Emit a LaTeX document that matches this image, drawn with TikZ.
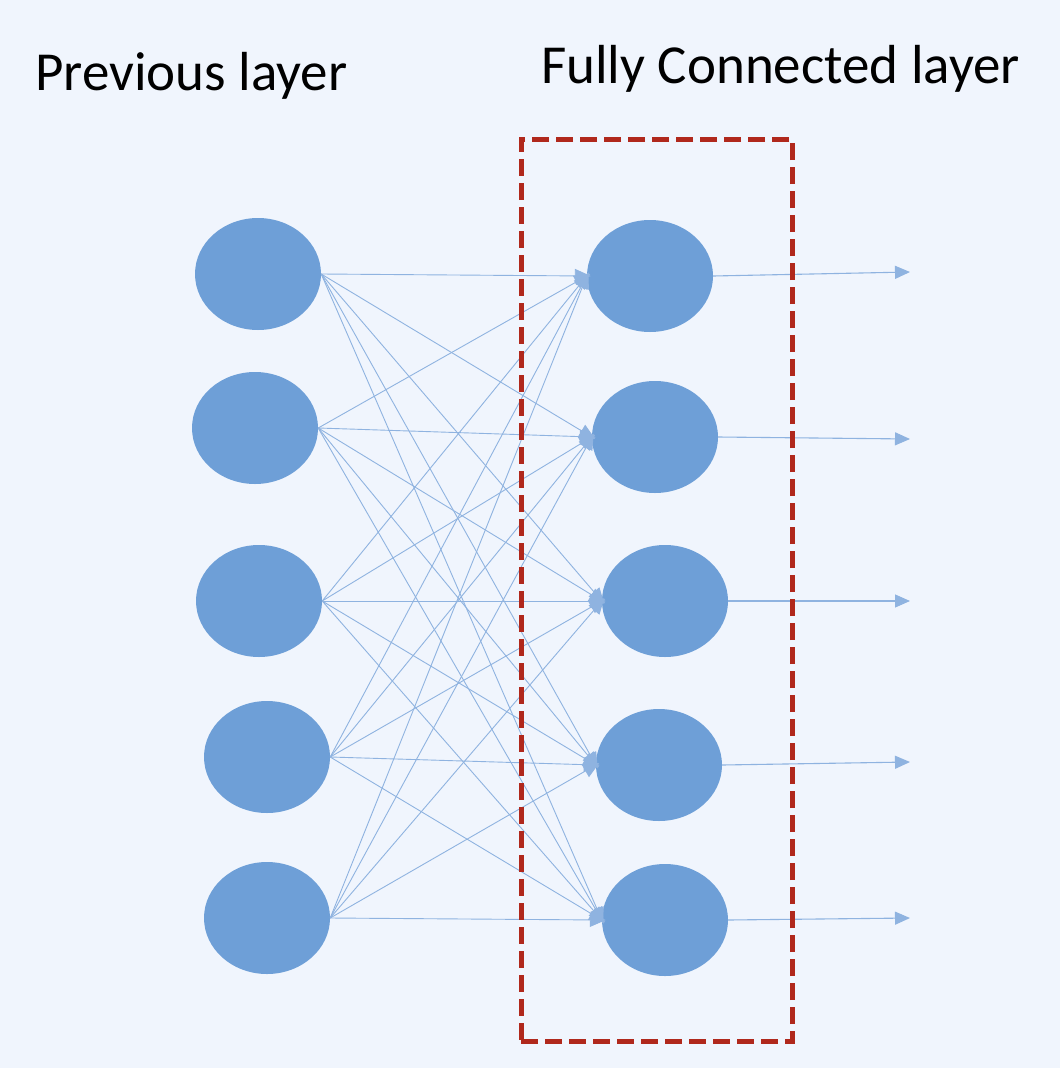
\documentclass[tikz,border=0pt]{standalone}
\usepackage{fontspec}
\setmainfont{Carlito}
\usetikzlibrary{shapes.geometric,arrows.meta}
\definecolor{bgc}{HTML}{F0F5FD}
\definecolor{neur}{HTML}{6E9FD7}
\definecolor{conn}{HTML}{8FB3E0}
\definecolor{boxred}{HTML}{B0281C}
\begin{document}
\begin{tikzpicture}[x=1pt,y=-1pt,
  neuron/.style={ellipse,fill=neur,draw=none,minimum width=126pt,minimum height=112pt,inner sep=0pt},
  link/.style={draw=conn,line width=0.9pt,-{Triangle[length=16pt,width=14pt]},shorten >=-4pt},
  outlink/.style={draw=conn,line width=1.1pt,-{Triangle[length=15pt,width=13pt]}},
  title/.style={anchor=base west,font=\fontsize{55}{60}\selectfont,text=black,inner sep=0pt}]
\fill[bgc] (0,0) rectangle (1060,1068);
\useasboundingbox (0,0) rectangle (1060,1068);
\node[title] (t1) at (35,90) {Previous layer};
\node[title] (t2) at (541,83) {Fully Connected layer};
\node[neuron] (L1) at (258,274) {};
\node[neuron] (L2) at (255,428) {};
\node[neuron] (L3) at (259,601) {};
\node[neuron] (L4) at (267,757) {};
\node[neuron] (L5) at (267,918) {};
\node[neuron] (R1) at (650,276) {};
\node[neuron] (R2) at (655,437) {};
\node[neuron] (R3) at (665,601) {};
\node[neuron] (R4) at (659,765) {};
\node[neuron] (R5) at (665,920) {};
\foreach \i in {1,...,5}{
  \foreach \j in {1,...,5}{
    \draw[link] (L\i.east) -- (R\j.west);
  }
}
\coordinate (O1) at (910,272);
\coordinate (O2) at (910,439);
\coordinate (O3) at (910,601);
\coordinate (O4) at (910,762);
\coordinate (O5) at (910,918);
\foreach \j in {1,...,5}{
  \draw[outlink] (R\j.east) -- (O\j);
}
\node[draw=boxred,line width=5pt,dash pattern=on 17pt off 7pt,minimum width=271pt,minimum height=902pt,inner sep=0pt] (box) at (656.5,590) {};
\end{tikzpicture}
\end{document}
